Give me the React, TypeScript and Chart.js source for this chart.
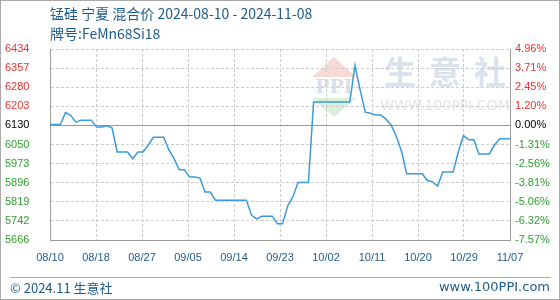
import React, { useEffect, useRef } from 'react';
import { Chart, registerables } from 'chart.js';
Chart.register(...registerables);

const titleText = '锰硅 宁夏 混合价 2024-08-10 - 2024-11-08';
const subtitleText = '牌号:FeMn68Si18';
const footerLeft = '© 2024.11 生意社';
const footerRight = 'www.100PPI.com';
const watermarkChars = ['生', '意', '社'];
const watermarkUrl = 'WWW.100PPI.COM';

// x axis: days since 08/10 (0 .. 89 = 11/07)
const dayCount = 89;
const xTickLabels = ['08/10', '08/18', '08/27', '09/05', '09/14', '09/23', '10/02', '10/11', '10/20', '10/29', '11/07'];
const leftTickLabels = ['5666', '5742', '5819', '5896', '5973', '6050', '6130', '6203', '6280', '6357', '6434'];
const rightTickLabels = ['-7.57%', '-6.32%', '-5.06%', '-3.81%', '-2.56%', '-1.31%', '0.00%', '1.20%', '2.45%', '3.71%', '4.96%'];
const yMin = 5666;
const yMax = 6434;
const baseIndex = 6;

// daily price, 08/10 .. 11/07
const prices = [
  6130, 6130, 6130, 6178, 6167, 6140, 6148, 6148, 6148, 6120,
  6120, 6125, 6117, 6020, 6020, 6020, 5993, 6020, 6020, 6047,
  6079, 6079, 6079, 6028, 5993, 5948, 5948, 5919, 5919, 5915,
  5859, 5859, 5826, 5826, 5826, 5826, 5826, 5826, 5826, 5765,
  5751, 5762, 5762, 5762, 5731, 5731, 5804, 5840, 5897, 5897,
  5897, 6221, 6221, 6221, 6221, 6221, 6221, 6221, 6221, 6368,
  6270, 6180, 6176, 6169, 6169, 6152, 6129, 6082, 6024, 5932,
  5932, 5932, 5932, 5906, 5900, 5883, 5939, 5939, 5939, 6021,
  6086, 6069, 6069, 6012, 6012, 6012, 6048, 6073, 6073, 6073,
];

const blueText = '#1d5b8c';
const redText = '#f03030';
const greenText = '#30a030';

function yTickValues() {
  return leftTickLabels.map((_, k) => ({ value: yMin + (k * (yMax - yMin)) / (leftTickLabels.length - 1) }));
}
function yColor(ctx: any) {
  const i = ctx.index;
  if (i === baseIndex) return '#000000';
  return i > baseIndex ? redText : greenText;
}

const decorPlugin = {
  id: 'decor',
  beforeDraw(chart: any) {
    const { ctx } = chart;
    ctx.save();
    ctx.fillStyle = '#ffffff';
    ctx.fillRect(0, 0, chart.width, chart.height);
    // watermark logo
    ctx.fillStyle = 'rgba(240,170,160,0.45)';
    ctx.beginPath();
    ctx.moveTo(334, 57);
    ctx.lineTo(356, 77);
    ctx.lineTo(312, 77);
    ctx.closePath();
    ctx.fill();
    ctx.fillStyle = 'rgba(190,200,225,0.6)';
    ctx.font = 'bold 19px "DejaVu Serif"';
    ctx.textAlign = 'center';
    ctx.textBaseline = 'middle';
    ctx.fillText('PPI', 334, 88);
    ctx.fillStyle = 'rgba(170,225,170,0.45)';
    ctx.beginPath();
    ctx.moveTo(312, 98);
    ctx.lineTo(356, 98);
    ctx.lineTo(334, 117);
    ctx.closePath();
    ctx.fill();
    ctx.fillStyle = 'rgba(215,222,235,0.9)';
    ctx.font = 'bold 32px "Noto Sans CJK SC"';
    watermarkChars.forEach((c, i) => ctx.fillText(c, 400 + i * 45, 72));
    ctx.fillStyle = 'rgba(225,225,225,0.9)';
    ctx.font = '14px "DejaVu Sans"';
    ctx.fillText(watermarkUrl, 445, 106);
    ctx.restore();
  },
  beforeDatasetsDraw(chart: any) {
    const { ctx, chartArea } = chart;
    const y = Math.round(chart.scales.y.getPixelForValue(yTickValues()[baseIndex].value)) + 0.5;
    ctx.save();
    ctx.strokeStyle = '#999999';
    ctx.lineWidth = 1;
    ctx.beginPath();
    ctx.moveTo(chartArea.left, y);
    ctx.lineTo(chartArea.right, y);
    ctx.stroke();
    ctx.restore();
  },
  afterDraw(chart: any) {
    const { ctx } = chart;
    ctx.save();
    ctx.fillStyle = blueText;
    ctx.textAlign = 'left';
    ctx.textBaseline = 'middle';
    ctx.font = '14px "Noto Sans CJK SC"';
    ctx.fillText(titleText, 50, 14);
    ctx.fillText(subtitleText, 50, 34);
    ctx.font = '13px "Noto Sans CJK SC"';
    ctx.fillText(footerLeft, 10, 288);
    ctx.textAlign = 'right';
    ctx.font = '13px "DejaVu Sans"';
    ctx.fillText(footerRight, 550, 288);
    ctx.strokeStyle = '#aaaaaa';
    ctx.lineWidth = 1;
    ctx.beginPath();
    ctx.moveTo(10, 277.5);
    ctx.lineTo(551, 277.5);
    ctx.stroke();
    ctx.strokeRect(0.5, 0.5, chart.width - 1, chart.height - 1);
    ctx.restore();
  },
};

export default function App() {
  const ref = useRef<HTMLCanvasElement | null>(null);
  useEffect(() => {
    document.body.style.margin = '0';
    if (!ref.current) return;
    const tickFont = { family: '"Liberation Sans", Arial, sans-serif', size: 11 };
    const chart = new Chart(ref.current, {
      type: 'line',
      data: {
        datasets: [
          {
            data: prices.map((v, i) => ({ x: i, y: v })),
            borderColor: '#3a9ad9',
            borderWidth: 1.5,
            pointRadius: 0,
            tension: 0,
            fill: false,
          },
        ],
      },
      options: {
        animation: false,
        responsive: false,
        maintainAspectRatio: false,
        devicePixelRatio: 1,
        layout: { padding: { left: 5, right: 0, top: 49, bottom: 0 } },
        plugins: { legend: { display: false }, tooltip: { enabled: false }, title: { display: false } },
        scales: {
          x: {
            type: 'linear',
            min: 0,
            max: dayCount,
            afterBuildTicks: (s: any) => {
              s.ticks = xTickLabels.map((_, k) => ({ value: (k * dayCount) / (xTickLabels.length - 1) }));
            },
            afterFit: (s: any) => {
              s.height = 60;
            },
            grid: {
              drawTicks: false,
              color: (c: any) => (c.index === 0 || c.index === xTickLabels.length - 1 ? 'rgba(0,0,0,0)' : '#cccccc'),
            },
            border: { display: true, color: '#999999', width: 1, dash: [3, 2] },
            ticks: {
              autoSkip: false,
              maxRotation: 0,
              padding: 11,
              color: blueText,
              font: tickFont,
              callback: (_v: any, i: number) => xTickLabels[i],
            },
          },
          y: {
            type: 'linear',
            position: 'left',
            min: yMin,
            max: yMax,
            afterBuildTicks: (s: any) => {
              s.ticks = yTickValues();
            },
            afterFit: (s: any) => {
              s.width = 45;
            },
            grid: {
              drawTicks: false,
              color: (c: any) => (c.index === 0 ? 'rgba(0,0,0,0)' : '#cccccc'),
            },
            border: { display: true, color: '#999999', width: 1, dash: [3, 2] },
            ticks: {
              crossAlign: 'far',
              padding: 0,
              color: yColor,
              font: tickFont,
              callback: (_v: any, i: number) => leftTickLabels[i],
            },
          },
          y1: {
            type: 'linear',
            position: 'right',
            min: yMin,
            max: yMax,
            afterBuildTicks: (s: any) => {
              s.ticks = yTickValues();
            },
            afterFit: (s: any) => {
              s.width = 50;
            },
            grid: { drawTicks: false, drawOnChartArea: false },
            border: { display: true, color: '#999999', width: 1 },
            ticks: {
              crossAlign: 'near',
              padding: 5,
              color: yColor,
              font: tickFont,
              callback: (_v: any, i: number) => rightTickLabels[i],
            },
          },
        },
      },
      plugins: [decorPlugin],
    } as any);
    return () => chart.destroy();
  }, []);
  return <canvas ref={ref} width={560} height={300} style={{ display: 'block' }} />;
}
